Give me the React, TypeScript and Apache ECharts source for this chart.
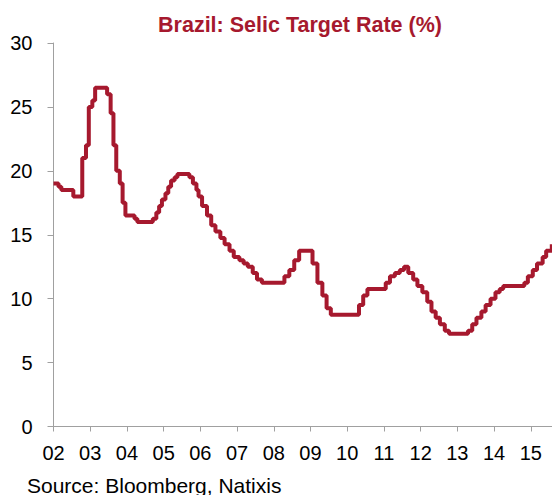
import React, { useEffect, useRef } from "react";
import * as echarts from "echarts";

// Selic target rate: dates of changes and the new level (%)
const changeDates = [
  "2002-01-01", "2002-02-20", "2002-03-20", "2002-07-17", "2002-10-14", "2002-11-20", "2002-12-18",
  "2003-01-22", "2003-02-19", "2003-06-18", "2003-07-23", "2003-08-20", "2003-09-17", "2003-10-22",
  "2003-11-19", "2003-12-17",
  "2004-03-17", "2004-04-14", "2004-09-15", "2004-10-20", "2004-11-17", "2004-12-15",
  "2005-01-19", "2005-02-16", "2005-03-16", "2005-04-20", "2005-05-18", "2005-09-14", "2005-10-19",
  "2005-11-23", "2005-12-14",
  "2006-01-18", "2006-03-08", "2006-04-19", "2006-05-31", "2006-07-19", "2006-08-30", "2006-10-18",
  "2006-11-29",
  "2007-01-24", "2007-03-07", "2007-04-18", "2007-06-06", "2007-07-18", "2007-09-05",
  "2008-04-16", "2008-06-04", "2008-07-23", "2008-09-10",
  "2009-01-21", "2009-03-11", "2009-04-29", "2009-06-10", "2009-07-22",
  "2010-04-28", "2010-06-09", "2010-07-21",
  "2011-01-19", "2011-03-02", "2011-04-20", "2011-06-08", "2011-07-20", "2011-08-31", "2011-10-19",
  "2011-11-30",
  "2012-01-18", "2012-03-07", "2012-04-18", "2012-05-30", "2012-07-11", "2012-08-29", "2012-10-10",
  "2013-04-17", "2013-05-29", "2013-07-10", "2013-08-28", "2013-10-09", "2013-11-27",
  "2014-01-15", "2014-02-26", "2014-04-02", "2014-10-29", "2014-12-03",
  "2015-01-21", "2015-03-04", "2015-04-29", "2015-06-03", "2015-07-29", "2015-07-31",
];
const rates = [
  19.0, 18.75, 18.5, 18.0, 21.0, 22.0, 25.0,
  25.5, 26.5, 26.0, 24.5, 22.0, 20.0, 19.0,
  17.5, 16.5,
  16.25, 16.0, 16.25, 16.75, 17.25, 17.75,
  18.25, 18.75, 19.25, 19.5, 19.75, 19.5, 19.0,
  18.5, 18.0,
  17.25, 16.5, 15.75, 15.25, 14.75, 14.25, 13.75,
  13.25,
  13.0, 12.75, 12.5, 12.0, 11.5, 11.25,
  11.75, 12.25, 13.0, 13.75,
  12.75, 11.25, 10.25, 9.25, 8.75,
  9.5, 10.25, 10.75,
  11.25, 11.75, 12.0, 12.25, 12.5, 12.0, 11.5,
  11.0,
  10.5, 9.75, 9.0, 8.5, 8.0, 7.5, 7.25,
  7.5, 8.0, 8.5, 9.0, 9.5, 10.0,
  10.5, 10.75, 11.0, 11.25, 11.75,
  12.25, 12.75, 13.25, 13.75, 14.25, 14.25,
];
const yearTicks = [2002, 2003, 2004, 2005, 2006, 2007, 2008, 2009, 2010, 2011, 2012, 2013, 2014, 2015];
const xStart = "2002-01-01";
const xEnd = "2015-07-31";
const titleText = "Brazil: Selic Target Rate (%)";
const sourceText = "Source: Bloomberg, Natixis";

const RED = "#A6192E";

function toYear(s: string): number {
  const [y, m, d] = s.split("-").map(Number);
  const t0 = Date.UTC(y, 0, 1);
  const t1 = Date.UTC(y + 1, 0, 1);
  return y + (Date.UTC(y, m - 1, d) - t0) / (t1 - t0);
}

export default function App() {
  const ref = useRef<HTMLDivElement>(null);
  useEffect(() => {
    if (!ref.current) return;
    const chart = echarts.init(ref.current, undefined, { renderer: "svg" });
    const data = changeDates.map((d, i) => [toYear(d), rates[i]]);
    chart.setOption({
      animation: false,
      backgroundColor: "#ffffff",
      textStyle: { fontFamily: "Liberation Sans, Arial, sans-serif" },
      grid: { left: 53.5, right: 0, top: 43, bottom: 68.5, containLabel: false },
      graphic: [
        {
          type: "text",
          x: 300,
          y: 25,
          style: {
            text: titleText,
            fill: RED,
            font: "bold 21.5px 'Liberation Sans', Arial, sans-serif",
            textAlign: "center",
            textVerticalAlign: "middle",
          },
        },
        {
          type: "text",
          x: 27,
          y: 485,
          style: {
            text: sourceText,
            fill: "#000000",
            font: "21px 'Liberation Sans', Arial, sans-serif",
            textAlign: "left",
            textVerticalAlign: "middle",
          },
        },
      ],
      xAxis: {
        type: "value",
        min: toYear(xStart),
        max: toYear(xEnd),
        axisLine: { show: true, lineStyle: { color: "#A0A0A0", width: 1 } },
        axisTick: {
          show: true,
          length: 5,
          lineStyle: { color: "#A0A0A0" },
          customValues: yearTicks,
        },
        axisLabel: {
          customValues: yearTicks,
          formatter: (v: number) => String(Math.round(v)).slice(2),
          color: "#000000",
          fontSize: 20,
          margin: 16,
          fontFamily: "Liberation Sans, Arial, sans-serif",
        },
        splitLine: { show: false },
      },
      yAxis: {
        type: "value",
        min: 0,
        max: 30,
        interval: 5,
        axisLine: { show: true, lineStyle: { color: "#A0A0A0", width: 1 } },
        axisTick: { show: true, length: 6, lineStyle: { color: "#A0A0A0" } },
        axisLabel: {
          color: "#000000",
          fontSize: 20,
          margin: 21,
          fontFamily: "Liberation Sans, Arial, sans-serif",
        },
        splitLine: { show: false },
      },
      series: [
        {
          type: "line",
          data,
          step: "end",
          showSymbol: false,
          symbol: "none",
          lineStyle: { color: RED, width: 4 },
          clip: false,
        },
      ],
    });
    return () => chart.dispose();
  }, []);
  return (
    <div
      ref={ref}
      style={{ position: "fixed", left: 0, top: 0, width: 552, height: 495, background: "#fff" }}
    />
  );
}
